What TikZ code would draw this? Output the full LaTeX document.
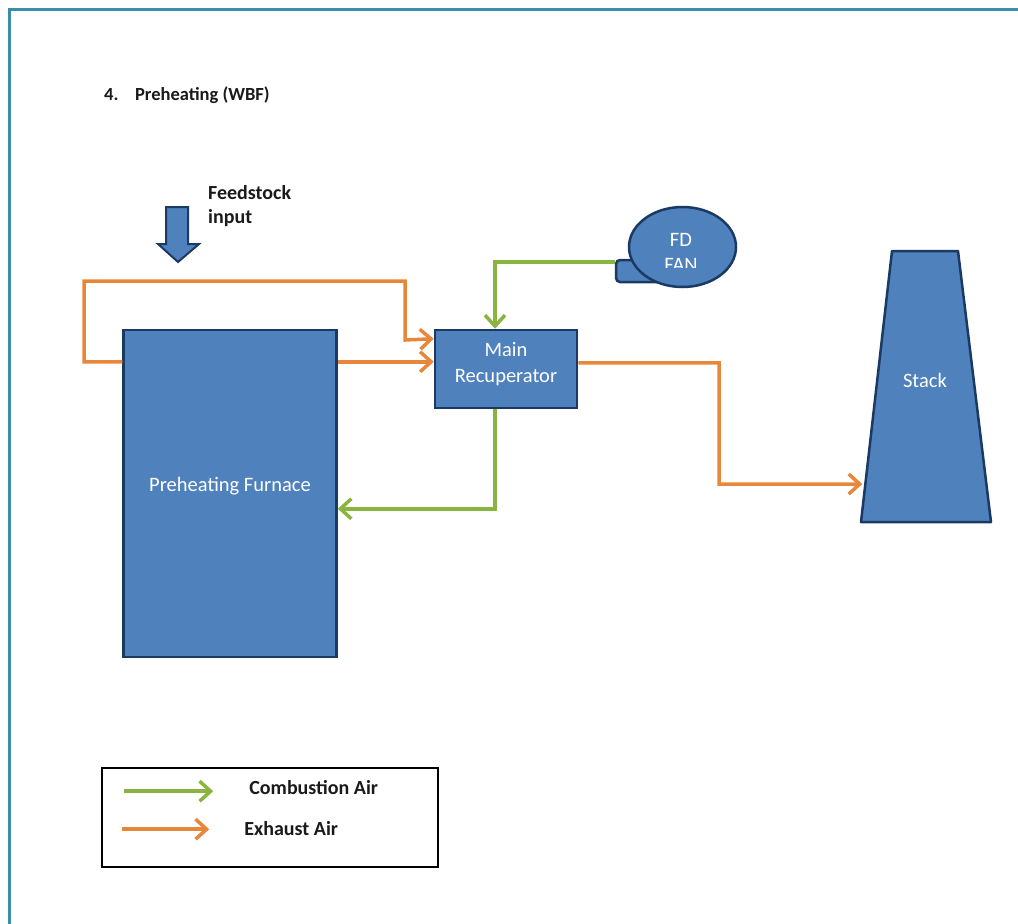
\documentclass[tikz,border=0pt]{standalone}
\usepackage{fontspec}
\setmainfont{Carlito}
\usetikzlibrary{arrows.meta,calc,shapes.geometric}
\definecolor{unitfill}{HTML}{4F81BD}
\definecolor{unitline}{HTML}{1B3A63}
\definecolor{exhaust}{HTML}{E8873A}
\definecolor{combust}{HTML}{8AB440}
\definecolor{pageline}{HTML}{3A8EA6}
\definecolor{labeltext}{HTML}{1A1A1A}

\begin{document}
\begin{tikzpicture}[x=1pt,y=-1pt,
  unit/.style={draw=unitline, fill=unitfill, line width=2.5pt, inner sep=0pt},
  unitlabel/.style={text=white, font=\fontsize{20.5}{26}\selectfont, align=center, inner sep=0pt},
  darklabel/.style={text=labeltext, font=\bfseries\fontsize{20}{24}\selectfont,
    align=left, inner sep=0pt},
  titlelabel/.style={darklabel, font=\bfseries\fontsize{18.5}{24}\selectfont},
  flow/.style={line width=3.5pt, -{Straight Barb[length=11pt,width=20pt]}},
  exflow/.style={flow, draw=exhaust},
  cbflow/.style={flow, draw=combust}
]
\useasboundingbox (0,0) rectangle (1018,924);

% page edge
\draw[pageline, line width=3pt] (9,924) -- (9,9) -- (1018,9);

% heading
\node[titlelabel, anchor=west] (title) at (104,95) {4.\hspace{0.9em}Preheating (WBF)};

% feedstock block arrow
\draw[unitline, fill=unitfill, line width=2pt, line join=miter]
  (166,207) -- (188,207) -- (188,244) -- (199,244) -- (178,262) -- (158,244) -- (166,244) -- cycle;
\node[darklabel, anchor=north west] (feed) at (208,185) {Feedstock\\input};

% process units
\node[unit, minimum width=213pt, minimum height=327pt] (furn) at (230,493.5) {};
\node[unitlabel] (furntext) at (230,486) {Preheating Furnace};
\node[unit, minimum width=142pt, minimum height=78pt] (recup) at (506,369) {};
\node[unitlabel] (recuptext) at (506,364) {Main\\Recuperator};

% forced draft fan: outlet tab under the casing
\node[unit, rounded corners=4pt, minimum width=54pt, minimum height=22pt] (fantab) at (643,271) {};
\node[unit, ellipse, minimum width=107pt, minimum height=80pt] (fan) at (682.5,247) {};
\node[unitlabel] (fdtext) at (681,240) {FD};
\begin{scope}
  \clip (630,250) rectangle (735,267.5);
  \node[unitlabel] (fantext) at (681,265) {FAN};
\end{scope}

% stack
\coordinate (stTL) at (892,251);
\coordinate (stTR) at (958,251);
\coordinate (stBR) at (991,522);
\coordinate (stBL) at (861,522);
\draw[unitline, fill=unitfill, line width=2.5pt, line join=round]
  (stTL) -- (stTR) -- (stBR) -- (stBL) -- cycle;
\node[unitlabel] (stack) at (925,380) {Stack};
\coordinate (stackin) at ($(stBL)!0.14!(stTL)$);

% exhaust air
\draw[exflow] ($(furn.north west)+(0,33)$) -| (84,281) -| (405,340)
  -- ($(recup.north west)+(0,10)$);
\draw[exflow] ($(furn.north east)+(0,33)$) -- ($(recup.north west)+(0,33)$);
\draw[exflow] ($(recup.north east)+(0,34)$) -| (719,484) -- ([xshift=-3pt]stackin);

% combustion air
\draw[cbflow] ($(fantab.north west)+(0,3)$) -| ($(recup.north)+(-11,0)$);
\draw[cbflow] ($(recup.south)+(-11,0)$) |- ($(furn.north east)+(0,180)$);

% key
\node[draw=black, line width=1.6pt, minimum width=336pt, minimum height=99pt,
  inner sep=0pt] (legend) at (270,817.5) {};
\draw[cbflow] ($(legend.north west)+(23,24)$) coordinate (lgc) -- ++(89,0);
\draw[exflow] ($(legend.north west)+(21,62)$) coordinate (lge) -- ++(87,0);
\node[darklabel, anchor=west] (lgcomb) at ($(legend.north west)+(148,20)$) {Combustion Air};
\node[darklabel, anchor=west] (lgexh) at ($(legend.north west)+(143,61)$) {Exhaust Air};
\end{tikzpicture}
\end{document}
